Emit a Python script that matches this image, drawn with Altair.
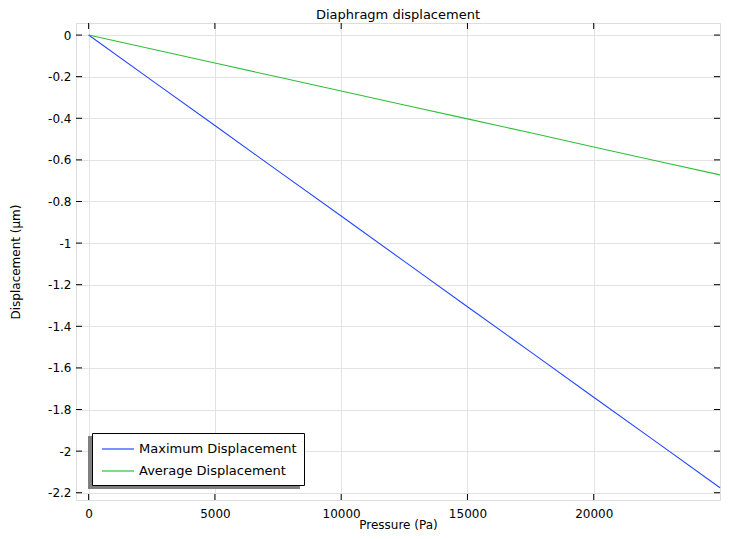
import altair as alt
import pandas as pd

pressure = [0, 2500, 5000, 7500, 10000, 12500, 15000, 17500, 20000, 22500, 25000]
max_disp = [0, -0.218, -0.435, -0.653, -0.870, -1.088, -1.306, -1.523, -1.741, -1.958, -2.176]
avg_disp = [0, -0.067, -0.134, -0.202, -0.269, -0.336, -0.403, -0.470, -0.538, -0.605, -0.672]
series = ["Maximum Displacement", "Average Displacement"]
colors = ["#2546ff", "#2ebf3a"]
x_ticks = [0, 5000, 10000, 15000, 20000]
y_ticks = [0, -0.2, -0.4, -0.6, -0.8, -1.0, -1.2, -1.4, -1.6, -1.8, -2.0, -2.2]

W, H = 644, 477
FONT = "DejaVu Sans"

rows = []
for p, m, a in zip(pressure, max_disp, avg_disp):
    rows.append({"p": p, "d": m, "s": series[0]})
    rows.append({"p": p, "d": a, "s": series[1]})
df = pd.DataFrame(rows)

xs = alt.Scale(domain=[-500, 25000], nice=False, zero=False)
ys = alt.Scale(domain=[-2.235, 0.058], nice=False, zero=False)

x_axis = alt.Axis(values=x_ticks, format="d", title="Pressure (Pa)", grid=True,
                  gridColor="#e3e3e3", ticks=False, domain=False, labelPadding=8,
                  titlePadding=0, labelFontSize=12, titleFontSize=12,
                  labelFont=FONT, titleFont=FONT, titleFontWeight="normal",
                  labelColor="#000", titleColor="#000")
y_axis = alt.Axis(values=y_ticks, title="Displacement (µm)", grid=True,
                  gridColor="#e3e3e3", ticks=False, domain=False, labelPadding=5,
                  titlePadding=25, labelFontSize=12, titleFontSize=12,
                  labelFont=FONT, titleFont=FONT, titleFontWeight="normal",
                  labelColor="#000", titleColor="#000",
                  labelExpr="replace(format(datum.value, '~g'), '\u2212', '-')")

lines = alt.Chart(df).mark_line(strokeWidth=1.1).encode(
    x=alt.X("p:Q", scale=xs, axis=x_axis),
    y=alt.Y("d:Q", scale=ys, axis=y_axis),
    color=alt.Color("s:N", scale=alt.Scale(domain=series, range=colors),
                    legend=alt.Legend(title=None, orient="none", legendX=16, legendY=410,
                                      symbolType="M-2,0H2", symbolSize=256,
                                      symbolOffset=10,
                                      symbolStrokeWidth=1.2, labelFont=FONT,
                                      labelFontSize=13, labelColor="#000",
                                      labelOffset=12, padding=7, rowPadding=6,
                                      strokeColor="#000", fillColor="#fff",
                                      labelLimit=300)),
)

xt = pd.DataFrame({"v": x_ticks})
yt = pd.DataFrame({"v": y_ticks})

tick_b = alt.Chart(xt).mark_rule(color="#000").encode(
    x=alt.X("v:Q", scale=xs), y=alt.value(H), y2=alt.value(H - 6))
tick_t = alt.Chart(xt).mark_rule(color="#000").encode(
    x=alt.X("v:Q", scale=xs), y=alt.value(0), y2=alt.value(6))
tick_l = alt.Chart(yt).mark_rule(color="#000").encode(
    y=alt.Y("v:Q", scale=ys), x=alt.value(0), x2=alt.value(6))
tick_r = alt.Chart(yt).mark_rule(color="#000").encode(
    y=alt.Y("v:Q", scale=ys), x=alt.value(W), x2=alt.value(W - 6))

shadow = alt.Chart(pd.DataFrame({"k": [0]})).mark_rect(color="#7f7f7f").encode(
    x=alt.value(12), x2=alt.value(224), y=alt.value(413), y2=alt.value(466))

chart = alt.layer(lines, tick_b, tick_t, tick_l, tick_r, shadow).properties(
    width=W, height=H,
    title=alt.TitleParams("Diaphragm displacement", font=FONT, fontSize=13,
                          fontWeight="normal", color="#000", offset=1),
    autosize=alt.AutoSizeParams(type="none"),
    padding={"left": 68, "top": 15, "right": 1, "bottom": 31},
).configure_view(stroke="#000", strokeWidth=1).configure(background="#fff")

chart.save("out.html", embed_options={"renderer": "svg", "actions": False})
